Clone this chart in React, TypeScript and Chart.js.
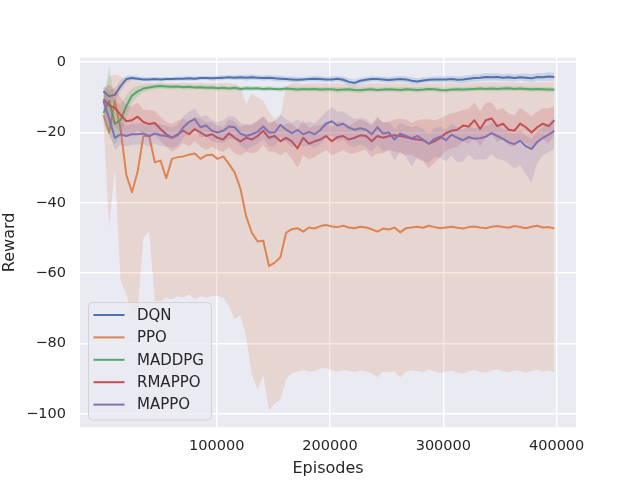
import React, { useEffect, useRef } from "react";
import { Chart, registerables } from "chart.js";

Chart.register(...registerables);

// ---------- data ----------
const episodes = Array.from({ length: 80 }, (_, i) => Math.round((i * 398000) / 79));
const xTickValues = [100000, 200000, 300000, 400000];
const yTickValues = [0, -20, -40, -60, -80, -100];

const seriesNames = ["DQN", "PPO", "MADDPG", "RMAPPO", "MAPPO"];
const seriesColors = ["#4c72b0", "#dd8452", "#55a868", "#c44e52", "#8172b3"];

const dqnMean = [
  -8.3, -9.7, -9.3, -6.8, -4.8, -4.5, -4.7, -4.9, -4.9, -4.8,
  -4.9, -4.8, -4.8, -4.7, -4.7, -4.6, -4.7, -4.5, -4.5, -4.6,
  -4.5, -4.4, -4.3, -4.4, -4.3, -4.4, -4.3, -4.4, -4.5, -4.4,
  -4.6, -4.7, -4.8, -4.9, -5.0, -4.9, -4.8, -4.7, -4.8, -4.9,
  -4.9, -4.7, -5.0, -5.6, -5.9, -5.3, -5.0, -4.8, -4.8, -4.9,
  -5.1, -4.9, -4.8, -4.9, -5.3, -5.5, -5.2, -5.0, -4.9, -4.9,
  -4.9, -4.8, -5.0, -4.9, -4.7, -4.5, -4.4, -4.2, -4.3, -4.2,
  -4.4, -4.3, -4.5, -4.3, -4.4, -4.6, -4.2, -4.3, -4.1, -4.2,
];
const dqnSpread = [
  1.5, 1.8, 2.0, 1.6, 1.0, 0.8, 0.7, 0.7, 0.6, 0.6,
  0.6, 0.6, 0.6, 0.6, 0.6, 0.7, 0.6, 0.6, 0.6, 0.7,
  0.7, 0.6, 0.6, 0.7, 0.7, 0.8, 0.8, 0.7, 0.7, 0.7,
  0.8, 0.8, 0.7, 0.8, 0.8, 0.7, 0.7, 0.8, 0.8, 0.7,
  0.8, 0.8, 0.9, 1.0, 1.0, 0.9, 0.8, 0.8, 0.8, 0.8,
  0.8, 0.9, 0.9, 0.9, 1.0, 1.0, 0.9, 0.8, 0.8, 0.9,
  0.9, 0.9, 0.9, 1.0, 1.0, 1.0, 1.0, 1.1, 1.0, 1.0,
  1.0, 1.1, 1.1, 1.0, 1.1, 1.2, 1.1, 1.1, 1.2, 1.1,
];

const ppoMean = [
  -15, -20, -11, -19, -32, -37, -31, -21, -21, -28.5,
  -28, -33, -27.5, -27, -26.8, -26.3, -26, -27.5, -26.5, -26.3,
  -27.5, -26.8, -29, -31.4, -36, -43.8, -48.5, -51, -50.8, -58,
  -57, -55.5, -48.5, -47.5, -47.2, -48.2, -47, -47.3, -46.6, -46.3,
  -46.7, -46.9, -46.5, -47, -47.2, -46.8, -47, -47.5, -48.2, -47.3,
  -47.6, -47, -48.4, -47.2, -47, -46.8, -47.1, -46.5, -46.9, -47.2,
  -47, -46.8, -47.1, -47.3, -46.9, -46.7, -47, -47.2, -46.8, -46.6,
  -46.9, -47.1, -46.6, -46.9, -47.2, -46.8, -46.5, -47, -46.9, -47.3,
];
const ppoLow = [
  -17, -47, -30, -62, -66, -72, -70, -50, -48, -68,
  -68, -67, -67.5, -66.5, -67, -66, -67.5, -66.5, -67, -66.5,
  -66.5, -67, -69.5, -73, -72, -78, -89, -93, -89, -99,
  -97, -96, -90, -88.5, -88, -87.5, -88, -87.8, -87.2, -87,
  -87.6, -88, -87.5, -87.8, -88.2, -87.6, -88, -88.5, -89.5, -88,
  -88.2, -87.8, -89.6, -88, -87.5, -87.8, -88.2, -87.4, -87.9, -88.4,
  -88, -87.7, -88.3, -88.5, -87.9, -87.5, -88, -88.3, -87.6, -87.4,
  -87.9, -88.2, -87.5, -87.8, -88.3, -87.8, -87.4, -88, -87.6, -88.2,
];
const ppoHigh = [
  -10, -4, -3.5, -4, -5, -5.5, -5.5, -6, -5.8, -6,
  -5.8, -6, -5.9, -6, -5.8, -6, -5.9, -5.8, -6, -5.9,
  -5.8, -6, -6, -6.2, -7, -12, -9, -10, -11, -14,
  -16, -15.5, -7, -6, -6, -6.2, -6, -5.9, -6.1, -6,
  -5.9, -6, -6.2, -6.4, -6.6, -6.3, -6.1, -6, -6, -6.1,
  -6.2, -6, -6, -6.1, -6.4, -6.6, -6.3, -6.1, -6, -6,
  -6, -5.9, -6.1, -6, -5.9, -5.8, -5.7, -5.6, -5.7, -5.6,
  -5.7, -5.7, -5.8, -5.7, -5.8, -5.9, -5.6, -5.7, -5.5, -5.6,
];

const maddpgMean = [
  -14.5, -11.0, -17.5, -16.5, -12.5, -9.5, -8.3, -7.5, -7.2, -6.9,
  -6.8, -6.9, -7.0, -6.9, -7.1, -7.0, -7.2, -7.1, -7.3, -7.2,
  -7.4, -7.3, -7.5, -7.3, -7.6, -7.4, -7.5, -7.4, -7.6, -7.5,
  -7.6, -7.7, -7.5, -7.6, -7.8, -7.6, -7.7, -7.6, -7.8, -7.7,
  -7.7, -7.9, -7.8, -7.7, -7.9, -8.0, -7.8, -7.7, -7.9, -7.8,
  -7.7, -7.8, -7.9, -7.7, -7.8, -7.9, -7.8, -7.6, -7.7, -7.9,
  -8.0, -7.8, -7.7, -7.8, -7.7, -7.6, -7.5, -7.6, -7.5, -7.6,
  -7.5, -7.4, -7.6, -7.5, -7.6, -7.7, -7.6, -7.7, -7.8, -7.8,
];
const maddpgSpread = [
  3, 10, 6, 4.5, 3, 2, 1.5, 1.0, 0.8, 0.7,
  0.7, 0.7, 0.7, 0.6, 0.7, 0.7, 0.6, 0.7, 0.7, 0.7,
  0.7, 0.7, 0.6, 0.7, 0.7, 0.7, 0.7, 0.6, 0.7, 0.7,
  0.7, 0.7, 0.7, 0.7, 0.8, 0.7, 0.7, 0.7, 0.7, 0.7,
  0.7, 0.8, 0.7, 0.7, 0.8, 0.8, 0.7, 0.7, 0.7, 0.7,
  0.7, 0.7, 0.8, 0.7, 0.7, 0.8, 0.7, 0.7, 0.7, 0.7,
  0.8, 0.7, 0.7, 0.7, 0.7, 0.7, 0.7, 0.7, 0.7, 0.7,
  0.7, 0.7, 0.7, 0.7, 0.7, 0.8, 0.7, 0.7, 0.8, 0.7,
];

const rmappoMean = [
  -10.5, -12.3, -13, -15, -16.8, -16.5, -15.5, -17, -17.6, -17.3,
  -19, -20.5, -21.5, -20.5, -19.5, -20.5, -19, -20, -21, -20.5,
  -21.5, -22, -20.2, -21.5, -22.5, -21.5, -22, -21, -19.5, -21.5,
  -21, -22.5, -21.5, -22.5, -24.5, -21.5, -23.2, -22.5, -22, -21,
  -22.5, -21.3, -21, -22, -21.5, -20.8, -21, -22.5, -21, -21.5,
  -21, -20.8, -21, -21.3, -21.8, -22, -22.2, -23.2, -22.5, -21.5,
  -20.2, -19.5, -19.2, -18, -18.3, -16.5, -19, -16.5, -16, -18.2,
  -17.5, -19.2, -19.5, -17.5, -18.5, -20, -18.5, -17.5, -18.2, -16.5,
];
const rmappoSpread = [
  3, 6, 5, 5, 4.5, 4, 4, 3.5, 4, 3.5,
  3.5, 3.5, 4, 4, 3.5, 3.5, 3.5, 4, 4, 3.5,
  3.5, 3.5, 4, 4.5, 4, 4, 4, 4.5, 4, 4,
  4.5, 4, 4, 5, 5.5, 5, 4.5, 4.5, 4, 4,
  4, 4.5, 4, 4, 4.5, 4.5, 4, 4.5, 5, 4.5,
  4, 4.5, 5, 5, 4.5, 5.5, 6, 7, 6, 5.5,
  5, 5, 5, 4.5, 5, 5, 5, 5, 4.5, 4.5,
  4.5, 4.5, 4.5, 4.5, 4.5, 4.5, 4.5, 4.5, 5, 4,
];

const mappoMean = [
  -11, -16, -21.5, -20.5, -21, -20.5, -20.5, -20.3, -21, -20.3,
  -20.8, -21, -21.5, -20.8, -18.5, -17, -16.2, -18.5, -18, -19.5,
  -20, -19.5, -18.3, -18.5, -20.3, -21, -20.5, -19.8, -18.3, -20,
  -20, -17.8, -19.2, -20.2, -19.3, -20.5, -19.8, -20.5, -19.3, -17.5,
  -16.8, -18, -17.5, -18.6, -19.2, -18.8, -19.2, -20.5, -18.5, -20.3,
  -20, -22, -20.3, -21, -21.6, -21, -22, -23.2, -21.8, -21.2,
  -22.2, -20.6, -21.5, -22.2, -21.3, -21.8, -21.6, -21.2, -20.2, -21,
  -21.8, -22.8, -23.3, -22.3, -23.9, -24.7, -22.7, -21.5, -20.6, -19.5,
];
const mappoUp = [
  4, 4, 4, 3.5, 3, 3, 3, 3, 3, 3,
  3, 3, 3, 3, 3, 3, 3, 3, 3, 3,
  3, 3, 3, 3, 3, 3, 3, 3, 3, 3,
  3, 3, 3, 3, 3, 3, 3, 3, 3.5, 3.5,
  4, 4, 3.5, 3.5, 3, 3, 3, 3, 3, 3,
  3, 3, 3, 3, 3, 3, 3, 3, 3, 3,
  3, 3, 3, 3, 3, 3, 3, 3, 3, 3,
  3, 3, 3, 3, 3, 3, 3, 3, 3, 3,
];
const mappoDown = [
  3, 4, 3.5, 3, 3, 3, 3, 3, 3, 3,
  3, 3, 3, 3, 3, 3, 3, 3, 3, 3,
  3, 3.5, 3.5, 3.5, 3.5, 4, 3.5, 3.5, 3.5, 4,
  4, 3.5, 3.5, 4, 4, 3.5, 4, 4, 4, 4,
  4, 4.5, 4.5, 5, 5, 4.5, 5, 5, 5, 5,
  5, 6, 5, 6, 8, 6, 6, 5.5, 5, 6,
  6, 6, 7, 6, 5, 6, 6, 6.5, 6, 6.5,
  6, 6, 7, 7, 8, 9.5, 6, 5, 5, 5,
];

// ---------- chart ----------
const FONT = "'DejaVu Sans', sans-serif";
const TEXT = "#262626";
const LINE_W = 2;

function rgba(hex: string, a: number) {
  const n = parseInt(hex.slice(1), 16);
  return `rgba(${(n >> 16) & 255},${(n >> 8) & 255},${n & 255},${a})`;
}

const pts = (ys: number[]) => ys.map((y, i) => ({ x: episodes[i], y }));

export default function App() {
  const ref = useRef<HTMLCanvasElement | null>(null);

  useEffect(() => {
    if (!ref.current) return;

    const means = [dqnMean, ppoMean, maddpgMean, rmappoMean, mappoMean];
    const lows = [
      dqnMean.map((m, i) => m - dqnSpread[i]),
      ppoLow,
      maddpgMean.map((m, i) => m - maddpgSpread[i]),
      rmappoMean.map((m, i) => m - rmappoSpread[i]),
      mappoMean.map((m, i) => m - mappoDown[i]),
    ];
    const highs = [
      dqnMean.map((m, i) => m + dqnSpread[i]),
      ppoHigh,
      maddpgMean.map((m, i) => m + maddpgSpread[i]),
      rmappoMean.map((m, i) => m + rmappoSpread[i]),
      mappoMean.map((m, i) => m + mappoUp[i]),
    ];

    const datasets: any[] = [];
    seriesNames.forEach((name, s) => {
      const c = seriesColors[s];
      datasets.push({
        label: name + " low",
        data: pts(lows[s]),
        borderWidth: 0,
        borderColor: "rgba(0,0,0,0)",
        pointRadius: 0,
        fill: false,
      });
      datasets.push({
        label: name + " high",
        data: pts(highs[s]),
        borderWidth: 0,
        borderColor: "rgba(0,0,0,0)",
        backgroundColor: rgba(c, 0.2),
        pointRadius: 0,
        fill: "-1",
      });
      datasets.push({
        label: name,
        data: pts(means[s]),
        borderColor: c,
        borderWidth: LINE_W,
        pointRadius: 0,
        fill: false,
        borderJoinStyle: "round",
      });
    });
    datasets.forEach((d, k) => (d.order = -k));

    const bgPlugin = {
      id: "bg",
      beforeDraw(chart: any) {
        const { ctx, chartArea: a } = chart;
        ctx.save();
        ctx.fillStyle = "#ffffff";
        ctx.fillRect(0, 0, chart.width, chart.height);
        ctx.fillStyle = "#eaeaf2";
        ctx.fillRect(a.left, a.top, a.right - a.left, a.bottom - a.top);
        ctx.restore();
      },
    };

    const legendPlugin = {
      id: "boxLegend",
      afterDraw(chart: any) {
        const ctx = chart.ctx;
        const x = 88.5, y = 302.5, w = 123, h = 117.5, r = 4;
        ctx.save();
        ctx.beginPath();
        ctx.moveTo(x + r, y);
        ctx.lineTo(x + w - r, y);
        ctx.quadraticCurveTo(x + w, y, x + w, y + r);
        ctx.lineTo(x + w, y + h - r);
        ctx.quadraticCurveTo(x + w, y + h, x + w - r, y + h);
        ctx.lineTo(x + r, y + h);
        ctx.quadraticCurveTo(x, y + h, x, y + h - r);
        ctx.lineTo(x, y + r);
        ctx.quadraticCurveTo(x, y, x + r, y);
        ctx.closePath();
        ctx.fillStyle = "rgba(234,234,242,0.8)";
        ctx.fill();
        ctx.strokeStyle = "rgba(204,204,204,0.8)";
        ctx.lineWidth = 1;
        ctx.stroke();
        ctx.font = `15px ${FONT}`;
        ctx.textBaseline = "middle";
        ctx.textAlign = "left";
        seriesNames.forEach((name, i) => {
          const cy = 315 + i * 22.4;
          ctx.strokeStyle = seriesColors[i];
          ctx.lineWidth = LINE_W;
          ctx.beginPath();
          ctx.moveTo(93.5, cy);
          ctx.lineTo(124.5, cy);
          ctx.stroke();
          ctx.fillStyle = TEXT;
          ctx.fillText(name, 137, cy + 1);
        });
        ctx.restore();
      },
    };

    const minus = (v: number) => (v < 0 ? "\u2212" + Math.abs(v) : String(v));

    const chart = new Chart(ref.current, {
      type: "line",
      data: { datasets },
      plugins: [bgPlugin, legendPlugin],
      options: {
        animation: false,
        responsive: false,
        devicePixelRatio: 1,
        layout: { padding: { left: 0, right: 64, top: 57.6, bottom: 0 } },
        plugins: {
          legend: { display: false },
          tooltip: { enabled: false },
        },
        elements: { line: { tension: 0 } },
        scales: {
          x: {
            type: "linear",
            min: -20700,
            max: 417100,
            border: { display: false },
            grid: { color: "#ffffff", lineWidth: 1.4, drawTicks: false },
            afterBuildTicks(scale: any) {
              scale.ticks = xTickValues.map((v) => ({ value: v }));
            },
            afterFit(scale: any) {
              scale.height = 52.8;
            },
            ticks: {
              autoSkip: false,
              maxRotation: 0,
              padding: 10,
              color: TEXT,
              font: { family: FONT, size: 14.5 },
              callback: (v: any) => String(v),
            },
            title: {
              display: true,
              text: "Episodes",
              color: TEXT,
              font: { family: FONT, size: 16 },
              padding: { top: 0, bottom: 2 },
            },
          },
          y: {
            type: "linear",
            min: -103.8,
            max: 1.3,
            border: { display: false },
            grid: { color: "#ffffff", lineWidth: 1.4, drawTicks: false },
            afterBuildTicks(scale: any) {
              scale.ticks = yTickValues.map((v) => ({ value: v }));
            },
            afterFit(scale: any) {
              scale.width = 80;
            },
            ticks: {
              padding: 14,
              color: TEXT,
              font: { family: FONT, size: 14.5 },
              callback: (v: any) => minus(Number(v)),
            },
            title: {
              display: true,
              text: "Reward",
              color: TEXT,
              font: { family: FONT, size: 16 },
              padding: { top: 0, bottom: 0 },
            },
          },
        },
      } as any,
    });

    return () => chart.destroy();
  }, []);

  return (
    <div style={{ position: "absolute", left: 0, top: 0, width: 640, height: 480, background: "#fff" }}>
      <canvas ref={ref} width={640} height={480} style={{ display: "block", width: 640, height: 480 }} />
    </div>
  );
}
